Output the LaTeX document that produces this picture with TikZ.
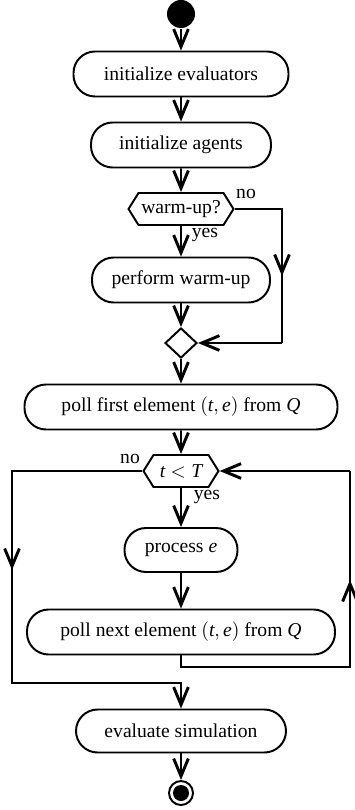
\documentclass[tikz,border=0pt]{standalone}
\usepackage{fontspec}
\setmainfont{Liberation Serif}
\usetikzlibrary{arrows.meta,shapes.misc,shapes.geometric,shapes.symbols}
\newcommand\pxu{0.51pt}
\begin{document}
\begin{tikzpicture}[x=0.51pt,y=-0.51pt,
  font=\fontsize{10}{12}\selectfont,
  line width=1pt,
  >={Straight Barb[length=9pt,width=7.5pt,line width=1.5pt]},
  act/.style={draw, rectangle, rounded corners=11pt, minimum height=45*\pxu, inner sep=0pt},
  hexa/.style={draw, signal, signal to=west and east, signal pointer angle=116,
               minimum height=32*\pxu, inner sep=0pt},
  dec/.style={draw, diamond, aspect=1, minimum width=32*\pxu, minimum height=30*\pxu, inner sep=0pt},
  lbl/.style={inner sep=0pt},
  flow/.style={->}]
\useasboundingbox (0,0) rectangle (355,810);

\node[fill=black, circle, minimum size=28*\pxu, inner sep=0pt] (start) at (181,14) {};
\node[act, minimum width=215*\pxu] (b1) at (181,74) {initialize evaluators};
\node[act, minimum width=180*\pxu] (b2) at (181,145) {initialize agents};
\node[hexa, minimum width=105*\pxu] (h1) at (181,209) {warm-up?};
\node[act, minimum width=178*\pxu] (b3) at (181,280) {perform warm-up};
\node[dec] (d1) at (181,343) {};
\node[act, minimum width=313*\pxu] (b4) at (181,407) {poll first element $(\mathit{t},\mathit{e})$ from $\mathit{Q}$};
\node[hexa, minimum width=75*\pxu] (h2) at (181,471) {$\mathit{t} < \mathit{T}$};
\node[act, minimum width=113*\pxu, minimum height=44*\pxu] (b5) at (181,550) {process $\mathit{e}$};
\node[act, minimum width=308*\pxu] (b6) at (181,632) {poll next element $(\mathit{t},\mathit{e})$ from $\mathit{Q}$};
\node[act, minimum width=210*\pxu, minimum height=43*\pxu] (b7) at (181,731) {evaluate simulation};
\node[draw, circle, minimum size=24*\pxu, inner sep=0pt] (endo) at (181,793) {};
\node[fill=black, circle, minimum size=16*\pxu, inner sep=0pt] (endi) at (181,793) {};

\node[lbl] (no1) at (246,194) {no};
\node[lbl] (yes1) at (205,235) {yes};
\node[lbl] (no2) at (130,459) {no};
\node[lbl] (yes2) at (207,497) {yes};

\draw[flow] (start) -- (b1);
\draw[flow] (b1) -- (b2);
\draw[flow] (b2) -- (h1);
\draw[flow] (h1) -- (b3);
\draw[flow] (b3) -- (d1);
\draw[flow] (d1) -- (b4);
\draw[flow] (b4) -- (h2);
\draw[flow] (h2) -- (b5);
\draw[flow] (b5) -- (b6);
\draw[flow] (b7) -- (endo);

\coordinate (n1) at (282,209);
\coordinate (n1m) at (282,276);
\coordinate (n2) at (282,343);
\draw (h1.east) -- (n1) -- (n2);
\draw[flow] (n1) -- (n1m);
\draw[flow] (n2) -- (d1.east);

\coordinate (l2) at (350,667);
\coordinate (l2m) at (350,580);
\coordinate (l3) at (350,471);
\draw (b6.south) |- (l2) -- (l3);
\draw[flow] (l2) -- (l2m);
\draw[flow] (l3) -- (h2.east);

\coordinate (e1) at (12,471);
\coordinate (e1m) at (12,570);
\coordinate (e2) at (12,683);
\draw[flow] (h2.west) -- (e1) -- (e2) -| (b7.north);
\draw[flow] (e1) -- (e1m);
\end{tikzpicture}
\end{document}
